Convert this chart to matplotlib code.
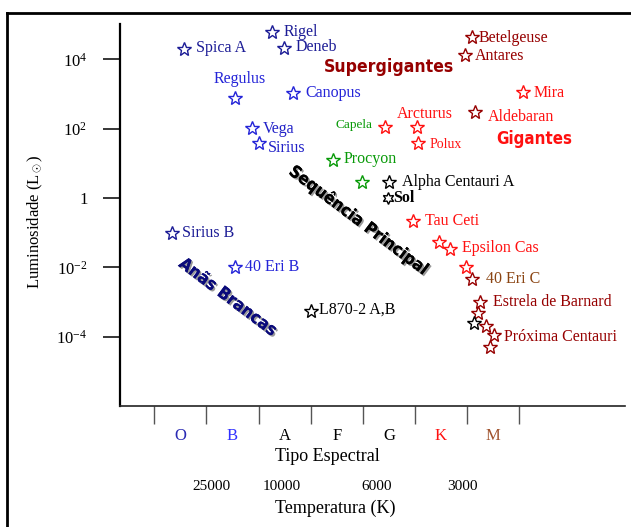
import matplotlib
matplotlib.use("Agg")
import numpy as np
import matplotlib.pyplot as plt
import matplotlib.patheffects as pe
from matplotlib.lines import Line2D
from matplotlib.ticker import NullLocator
from matplotlib.transforms import blended_transform_factory

plt.rcParams["font.family"] = ["Liberation Serif", "DejaVu Serif"]
plt.rcParams["mathtext.fontset"] = "custom"
plt.rcParams["mathtext.rm"] = "Liberation Serif"
plt.rcParams["mathtext.it"] = "Liberation Serif:italic"

# ── Dados (tipo espectral: 0 = início de O, 1 unidade por classe; log10 L/Lsol) ──
star_names = ["Rigel", "Deneb", "Spica A", "Regulus", "Canopus", "Vega", "Sirius",
              "Procyon", "", "Alpha Centauri A", "Sol", "Capela", "Arcturus",
              "Polux", "Aldebaran", "Mira", "Betelgeuse", "Antares", "Tau Ceti",
              "", "Epsilon Cas", "", "40 Eri C", "Estrela de Barnard", "", "",
              "", "Próxima Centauri", "", "Sirius B", "40 Eri B", "L870-2 A,B"]
spec_pos = [2.26, 2.49, 0.57, 1.55, 2.66, 1.87, 2.01,
            3.43, 3.98, 4.50, 4.48, 4.42, 5.04,
            5.06, 6.15, 7.07, 6.09, 5.96, 4.96,
            5.46, 5.67, 5.98, 6.09, 6.25, 6.21, 6.13,
            6.36, 6.51, 6.44, 0.34, 1.55, 3.00]
log_lum = [4.79, 4.33, 4.30, 2.89, 3.03, 2.02, 1.59,
           1.10, 0.46, 0.46, 0.00, 2.05, 2.05,
           1.59, 2.48, 3.06, 4.65, 4.13, -0.66,
           -1.27, -1.47, -1.99, -2.34, -3.00, -3.32, -3.61,
           -3.69, -3.95, -4.30, -1.01, -1.99, -3.26]

spectral_classes = ["O", "B", "A", "F", "G", "K", "M"]
temp_labels = ["25000", "10000", "6000", "3000"]
temp_pos = [1.10, 2.45, 4.27, 5.91]
lum_ticks = [1e4, 1e2, 1, 1e-2, 1e-4]
lum_ticklabels = [r"$\mathregular{10^{4}}$", r"$\mathregular{10^{2}}$", "1",
                  r"$\mathregular{10^{-2}}$", r"$\mathregular{10^{-4}}$"]

# regiões (texto, tipo espectral, log L)
region_names = ["Supergigantes", "Gigantes", "Sequência Principal", "Anãs Brancas"]
region_pos = [4.50, 7.28, 3.91, 1.41]
region_lum = [3.78, 1.70, -0.63, -2.86]

# ── Estilos ───────────────────────────────────────────────────────────────────
DB, BL, GR, RD, DR, BR, K = "#1c1c96", "#2424d8", "#089a08", "#ff1010", "#960000", "#8b4513", "#000000"
star_colors = [DB, DB, DB, BL, BL, BL, BL,
               GR, GR, K, K, RD, RD,
               RD, DR, RD, DR, DR, RD,
               RD, RD, RD, DR, DR, DR, K,
               DR, DR, DR, DB, BL, K]
label_colors = [DB, DB, DB, BL, BL, "#2222c8", "#2222c8",
                GR, GR, K, K, GR, RD,
                RD, RD, RD, DR, DR, RD,
                RD, RD, RD, BR, DR, DR, K,
                DR, DR, DR, DB, BL, K]
# deslocamento do rótulo em pixels (dx, dy para cima) e alinhamento
label_offsets = [(11, 0), (11, 1), (12, 1), (5, 19), (12, 0), (11, -1), (9, -5),
                 (10, 1), (0, 0), (13, 0), (5, 0), (-12, 2), (8, 13),
                 (11, -2), (13, -5), (11, -1), (7, -1), (10, -1), (12, 0),
                 (0, 0), (12, 1), (0, 0), (14, 0), (13, 0), (0, 0), (0, 0),
                 (0, 0), (10, -2), (0, 0), (10, 0), (10, 0), (8, 1)]
label_ha = {"Regulus": "center", "Arcturus": "center", "Capela": "right"}
label_size = {"Capela": 9.5, "Polux": 10}
class_colors = ["#2a2ab4", "#3030ff", K, K, K, RD, "#a0522d"]
region_colors = [DR, RD, K, "#0a0a7a"]
region_sizes = [12.6, 12.2, 12.2, 12.4]
region_rot = [0, 0, -37, -37]

fig = plt.figure(figsize=(6.31, 5.27), dpi=100)
fig.patch.set_facecolor("white")
ax = fig.add_axes([120 / 631, 1 - 406 / 527, 505 / 631, 382 / 527])

ax.set_yscale("log")
ax.set_xlim(-0.658, 9.028)
ax.set_ylim(10 ** -6.003, 10 ** 5.02)

for s, lg, name, sc, lc, (dx, dy) in zip(spec_pos, log_lum, star_names, star_colors,
                                        label_colors, label_offsets):
    L = 10 ** lg
    marker = (6, 1, 0) if name == "Sol" else "*"
    ms = 8.5 if name == "Sol" else 10
    ax.plot(s, L, marker=marker, ms=ms, mfc="white", mec=sc, mew=1.0,
            ls="none", zorder=3)
    if name:
        ax.annotate(name, (s, L), xytext=(dx, dy), textcoords="offset pixels",
                    ha=label_ha.get(name, "left"), va="center", color=lc,
                    fontsize=label_size.get(name, 11.5),
                    fontweight="bold" if name == "Sol" else "normal")

for txt, s, lg, c, fs, rot in zip(region_names, region_pos, region_lum,
                                  region_colors, region_sizes, region_rot):
    effects = []
    if rot != 0:
        effects = [pe.withSimplePatchShadow(offset=(1.2, -1.2), shadow_rgbFace="#808080", alpha=0.8),
                   pe.Normal()]
    ax.text(s, 10 ** lg, txt, color=c, fontsize=fs, fontweight="bold",
            family="DejaVu Sans", fontstretch="condensed",
            ha="center", va="center", rotation=rot,
            rotation_mode="anchor", path_effects=effects, zorder=2)

# eixos
for sp in ["top", "right"]:
    ax.spines[sp].set_visible(False)
ax.spines["left"].set_linewidth(1.6)
ax.spines["bottom"].set_linewidth(1.2)
ax.spines["bottom"].set_color("#222222")

ax.set_yticks(lum_ticks)
ax.set_yticklabels(lum_ticklabels, fontsize=12)
ax.yaxis.set_minor_locator(NullLocator())
ax.tick_params(axis="y", direction="out", length=12.5, width=1.1, pad=11)

ax.set_xticks(np.arange(len(spectral_classes) + 1))
ax.set_xticklabels([])
ax.set_xticks(np.arange(len(spectral_classes)) + 0.5, minor=True)
ax.set_xticklabels(spectral_classes, minor=True, fontsize=12)
ax.tick_params(axis="x", which="major", direction="out", length=13, width=1.0,
               color="#555555")
ax.tick_params(axis="x", which="minor", length=0, pad=16)
for lbl, c in zip(ax.get_xticklabels(minor=True), class_colors):
    lbl.set_color(c)

trans = blended_transform_factory(ax.transData, ax.transAxes)
for t, s in zip(temp_labels, temp_pos):
    ax.text(s, -0.212, t, transform=trans, ha="center", va="center", fontsize=11)

ax.text((327 - 120) / 505, -0.1335, "Tipo Espectral", transform=ax.transAxes,
        ha="center", va="center", fontsize=13)
ax.text((335 - 120) / 505, -0.267, "Temperatura (K)", transform=ax.transAxes,
        ha="center", va="center", fontsize=13)
fig.text(35 / 631, 1 - 222 / 527, r"Luminosidade (L$_\odot$)", rotation=90,
         ha="center", va="center", fontsize=12)

# moldura (topo e esquerda)
fig.add_artist(Line2D([7 / 631, 1], [1 - 13 / 527] * 2, transform=fig.transFigure,
                      color="black", lw=2))
fig.add_artist(Line2D([7 / 631] * 2, [0, 1 - 13 / 527], transform=fig.transFigure,
                      color="black", lw=2))

fig.savefig("out.png", dpi=100)
